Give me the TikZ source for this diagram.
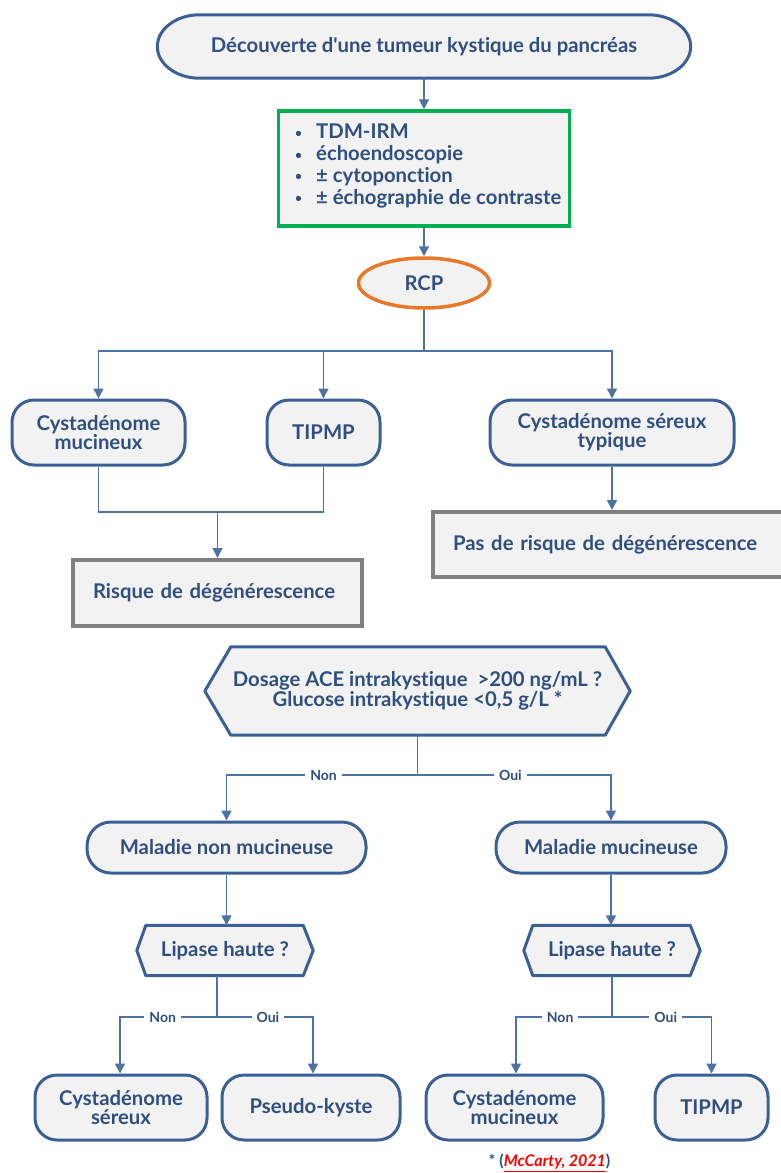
\documentclass[tikz,border=0pt]{standalone}
\usepackage{fontspec}
\setmainfont{Lato}[Ligatures={NoCommon}]
\usetikzlibrary{arrows.meta,calc,shapes.geometric,backgrounds}
\definecolor{txt}{HTML}{2E4F80}
\definecolor{edge}{HTML}{3A6096}
\definecolor{ln}{HTML}{4D72A6}
\definecolor{fillg}{HTML}{F2F2F2}
\definecolor{grn}{HTML}{00B050}
\definecolor{org}{HTML}{E8782A}
\definecolor{gry}{HTML}{808080}
\definecolor{refred}{HTML}{FF0000}
\tikzset{
  base/.style={text=txt, align=center, inner sep=0pt, font=\bfseries\fontsize{20.3}{19}\selectfont},
  term/.style={base, draw=edge, line width=3pt, fill=fillg, rounded corners=22pt},
  pill/.style={base, draw=edge, line width=3pt, fill=fillg, rounded corners=24pt},
  plain/.style={base},
  outl/.style={draw=edge, line width=3pt, fill=fillg, line join=round},
  conn/.style={draw=ln, line width=1.5pt},
  arr/.style={conn, -{Triangle[length=10pt,width=10pt]}},
  lab/.style={fill=white, text=txt, inner sep=5pt, font=\bfseries\fontsize{14}{14}\selectfont},
  graybox/.style={base, draw=gry, line width=4pt, fill=fillg, align=left, inner xsep=20pt},
}
\newcommand{\bul}{{\fontsize{12}{12}\selectfont\raisebox{1.5pt}{•}}\hspace{14pt}}
\begin{document}
\begin{tikzpicture}[x=1pt,y=-1pt]
\useasboundingbox (0,0) rectangle (780,1173);

% top terminal
\node[plain, minimum width=533pt, minimum height=63pt] (top) at (424,46.5) {Découverte d\textquotesingle une tumeur kystique du pancréas};
\begin{scope}[on background layer]
\draw[outl] ($(top.north west)+(42,0)$) -- ($(top.north east)+(-42,0)$)
  .. controls ($(top.north east)+(-19,0)$) and ($(top.east)+(0,-17.4)$) .. (top.east)
  .. controls ($(top.east)+(0,17.4)$) and ($(top.south east)+(-19,0)$) .. ($(top.south east)+(-42,0)$)
  -- ($(top.south west)+(42,0)$)
  .. controls ($(top.south west)+(19,0)$) and ($(top.west)+(0,17.4)$) .. (top.west)
  .. controls ($(top.west)+(0,-17.4)$) and ($(top.north west)+(19,0)$) .. cycle;
\end{scope}

% exams box
\node[base, draw=grn, line width=3.5pt, fill=fillg, minimum width=291pt, minimum height=115pt] (exam) at (424,168.5) {};
\node[base, anchor=west, align=left, font=\bfseries\fontsize{20.3}{21.7}\selectfont] (examtxt) at (295,166)
 {\bul TDM-IRM\\
  \bul échoendoscopie\\
  \bul ± cytoponction\\
  \bul ± échographie de contraste};

% RCP
\node[base, ellipse, draw=org, line width=3.5pt, fill=fillg, minimum width=131pt, minimum height=50pt] (rcp) at (424,283) {RCP};

\draw[arr] (top.south) -- (exam.north);
\draw[arr] (exam.south) -- (rcp.north);

% second row
\node[term, minimum width=173pt, minimum height=65pt] (cm1) at (98.5,432.5) {Cystadénome\\mucineux};
\node[term, minimum width=113pt, minimum height=65pt] (tip1) at (323.5,432.5) {TIPMP};
\node[term, minimum width=244pt, minimum height=65pt] (cst) at (612,432.5) {Cystadénome séreux\\typique};

\coordinate (b1) at (424,351);
\draw[conn] (rcp.south) -- (b1);
\draw[arr] (b1) -| (cm1.north);
\draw[arr] (b1) -| (tip1.north);
\draw[arr] (b1) -| (cst.north);

% risk boxes
\node[graybox, text width=249pt, minimum height=66pt] (risk) at (217.5,593) {Risque de dégénérescence};
\node[graybox, text width=312pt, minimum height=65pt] (norisk) at (609,544.5) {Pas de risque de dégénérescence};

\coordinate (j1) at (217.5,512);
\draw[conn] (cm1.south) |- (j1);
\draw[conn] (tip1.south) |- (j1);
\draw[arr] (j1) -- (risk.north);
\draw[arr] (cst.south) -- (cst.south |- norisk.north);

% ACE decision
\node[plain, minimum width=425pt, minimum height=88pt, font=\bfseries\fontsize{20.3}{20}\selectfont] (ace) at (417.5,691)
 {Dosage ACE intrakystique \ >200 ng/mL ?\\Glucose intrakystique <0,5 g/L *};
\begin{scope}[on background layer]
\draw[outl] (ace.west) -- ($(ace.north west)+(26,0)$) -- ($(ace.north east)+(-25,0)$) -- (ace.east)
  -- ($(ace.south east)+(-25,0)$) -- ($(ace.south west)+(26,0)$) -- cycle;
\end{scope}

\node[pill, minimum width=279pt, minimum height=51pt] (mnm) at (226.5,847.5) {Maladie non mucineuse};
\node[pill, minimum width=230pt, minimum height=51pt] (mm) at (611,847.5) {Maladie mucineuse};

\coordinate (b2) at (417.5,775);
\draw[conn] (ace.south) -- (b2);
\draw[arr] (b2) -| (mnm.north) node[lab, pos=0.246] (non1) {Non};
\draw[arr] (b2) -| (mm.north) node[lab, pos=0.24] (oui1) {Oui};

% Lipase decisions
\node[plain, minimum width=176pt, minimum height=50pt] (lipl) at (225,950.5) {Lipase haute ?};
\node[plain, minimum width=176pt, minimum height=50pt] (lipr) at (612,950.5) {Lipase haute ?};
\begin{scope}[on background layer]
\foreach \n in {lipl,lipr}{
\draw[outl] (\n.west) -- ($(\n.north west)+(9,0)$) -- ($(\n.north east)+(-10,0)$) -- (\n.east)
  -- ($(\n.south east)+(-10,0)$) -- ($(\n.south west)+(9,0)$) -- cycle;
}
\end{scope}
\draw[arr] (mnm.south) -- (mnm.south |- lipl.north);
\draw[arr] (mm.south) -- (mm.south |- lipr.north);

% bottom row
\node[term, minimum width=172pt, minimum height=65pt] (cs) at (121,1107.5) {Cystadénome\\séreux};
\node[term, minimum width=178pt, minimum height=65pt] (pk) at (311,1107.5) {Pseudo-kyste};
\node[term, minimum width=177pt, minimum height=65pt] (cm2) at (514.5,1107.5) {Cystadénome\\mucineux};
\node[term, minimum width=113pt, minimum height=65pt] (tip2) at (711.5,1107.5) {TIPMP};

\coordinate (o1) at (217,975.5);
\coordinate (b3) at (217,1017);
\coordinate (b4) at (612,1017);
\draw[conn] (o1) -- (b3);
\draw[conn] (lipr.south) -- (b4);
\draw[arr] (b3) -| ($(cs.north)+(-1,0)$) node[lab, pos=0.28] (non2) {Non};
\draw[arr] (b3) -| ($(pk.north)+(2,0)$) node[lab, pos=0.265] (oui2) {Oui};
\draw[arr] (b4) -| ($(cm2.north)+(1.5,0)$) node[lab, pos=0.27] (non3) {Non};
\draw[arr] (b4) -| (tip2.north) node[lab, pos=0.27] (oui3) {Oui};

% footnote
\node[text=txt, font=\bfseries\fontsize{16}{16}\selectfont, anchor=center, inner sep=0pt] (foot) at (549.5,1163)
 {* ({\color{refred}\itshape\underline{McCarty, 2021}})};
\end{tikzpicture}
\end{document}
